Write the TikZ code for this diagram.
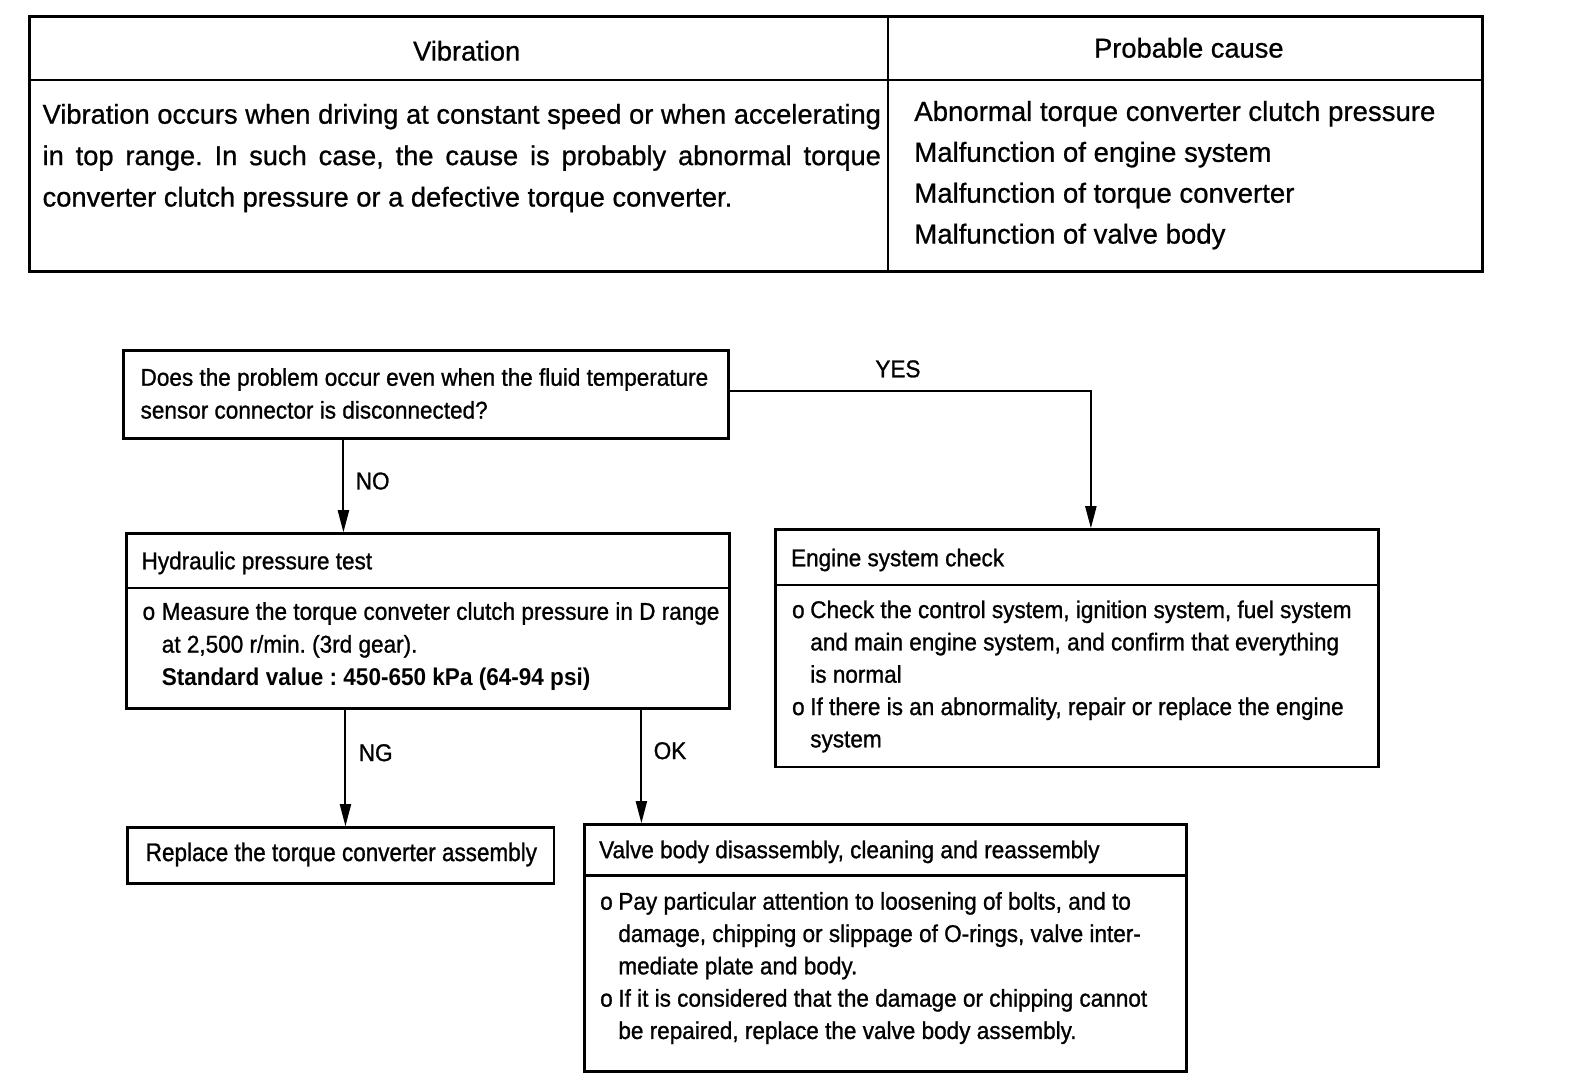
\documentclass[tikz,border=0pt]{standalone}
\usepackage{fontspec}
\setmainfont{Liberation Sans}[UprightFeatures={FakeBold=0.8}]
\newfontfamily\condfont[FakeStretch=0.93,UprightFeatures={FakeBold=1.0}]{Liberation Sans}
\newfontfamily\rfont[FakeStretch=0.88,UprightFeatures={FakeBold=1.0}]{Liberation Sans}
\usetikzlibrary{arrows.meta}
\frenchspacing
\begin{document}
\begin{tikzpicture}[x=1pt,y=-1pt,
  tframe/.style={draw, line width=3pt, inner sep=0, anchor=north west, rectangle},
  box/.style={draw, line width=2.8pt, inner sep=0, anchor=north west, rectangle},
  sep/.style={line width=2.5pt},
  arr/.style={line width=2pt, -{Triangle[width=11pt,length=22pt]}},
  tbl/.style={font=\fontsize{27}{41}\selectfont, inner sep=0},
  fc/.style={font=\condfont\fontsize{24}{32.5}\selectfont, inner sep=0, align=left, anchor=north west},
  lbl/.style={font=\condfont\fontsize{24}{30}\selectfont, inner sep=0, anchor=base west}]
\useasboundingbox (0,0) rectangle (1568.2,1069.2);
% ---- table ----
\node[tframe, minimum width=1438pt, minimum height=252pt] (tab) at (28,15) {};
\coordinate (colx) at (879,0);
\coordinate (rowy) at (0,79);
\draw[sep] (tab.north -| colx) -- (tab.south -| colx);
\draw[sep] (tab.west |- rowy) -- (tab.east |- rowy);
\node[tbl, anchor=base] (th1) at (462,60) {Vibration};
\node[tbl, anchor=base] (th2) at (1177,57) {Probable cause};
\node[tbl, anchor=north west, align=left] (tb1) at (42,102.7)
 {\hbox to 830pt{Vibration occurs when driving at constant speed or when accelerating}\\
  \hbox to 830pt{in top range. In such case, the cause is probably abnormal torque}\\
  converter clutch pressure or a defective torque converter.};
\node[tbl, anchor=north west, align=left, font=\fontsize{27.3}{40.5}\selectfont] (tb2) at (905,99.7)
 {Abnormal torque converter clutch pressure\\
  Malfunction of engine system\\
  Malfunction of torque converter\\
  Malfunction of valve body};
% ---- flowchart boxes ----
\node[box, minimum width=599pt, minimum height=87pt] (q) at (121,346) {};
\node[fc] (qt) at (139,364.3) {Does the problem occur even when the fluid temperature\\sensor connector is disconnected?};

\node[box, minimum width=597pt, minimum height=173pt] (h) at (124,527) {};
\draw[sep] (h.west |- 0,582) -- (h.east |- 0,582);
\node[fc] (ht) at (140,546) {Hydraulic pressure test};
\node[fc] (hb) at (141,596)
 {\makebox[19pt][l]{o}Measure the torque conveter clutch pressure in D range\\
  \hspace*{19pt}at 2,500 r/min. (3rd gear).\\
  \hspace*{19pt}\textbf{Standard value : 450-650 kPa (64-94 psi)}};

\node[box, minimum width=597pt, minimum height=235pt] (e) at (766,523) {};
\draw[sep] (e.west |- 0,579) -- (e.east |- 0,579);
\node[fc] (et) at (783,543) {Engine system check};
\node[fc, font=\condfont\fontsize{24}{32}\selectfont] (eb) at (784,594.3)
 {\makebox[18pt][l]{o}Check the control system, ignition system, fuel system\\
  \hspace*{18pt}and main engine system, and confirm that everything\\
  \hspace*{18pt}is normal\\
  \makebox[18pt][l]{o}If there is an abnormality, repair or replace the engine\\
  \hspace*{18pt}system};

\node[box, minimum width=422pt, minimum height=55pt] (r) at (125,818) {};
\node[fc, anchor=base, font=\rfont\fontsize{25.3}{30}\selectfont] (rt) at (338,852.5) {Replace the torque converter assembly};

\node[box, minimum width=596pt, minimum height=244pt] (v) at (577,815) {};
\draw[sep] (v.west |- 0,867) -- (v.east |- 0,867);
\node[fc] (vt) at (593,832) {Valve body disassembly, cleaning and reassembly};
\node[fc, font=\condfont\fontsize{24}{32}\selectfont] (vb) at (594,883)
 {\makebox[18pt][l]{o}Pay particular attention to loosening of bolts, and to\\
  \hspace*{18pt}damage, chipping or slippage of O-rings, valve inter-\\
  \hspace*{18pt}mediate plate and body.\\
  \makebox[18pt][l]{o}If it is considered that the damage or chipping cannot\\
  \hspace*{18pt}be repaired, replace the valve body assembly.};
% ---- connectors ----
\coordinate (yesturn) at (1080,387);
\coordinate (nox) at (340,0);
\coordinate (ngx) at (342,0);
\coordinate (okx) at (635,0);
\draw[arr] (q.east |- yesturn) -- (yesturn) -- (e.north -| yesturn);
\draw[arr] (q.south -| nox) -- (h.north -| nox);
\draw[arr] (h.south -| ngx) -- (r.north -| ngx);
\draw[arr] (h.south -| okx) -- (v.north -| okx);
\node[lbl, anchor=base] (yes) at (889,373.5) {YES};
\node[lbl] (no) at (352,484.5) {NO};
\node[lbl] (ng) at (355,753.5) {NG};
\node[lbl] (ok) at (647,751.5) {OK};
\end{tikzpicture}
\end{document}
